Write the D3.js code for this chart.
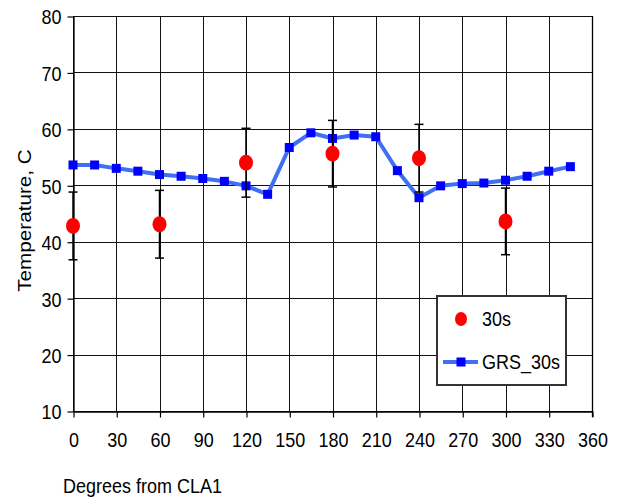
<!DOCTYPE html>
<html>
<head>
<meta charset="utf-8">
<script src="https://cdn.jsdelivr.net/npm/d3@7"></script>
<style>
  html, body { margin: 0; padding: 0; background: #fff; }
  svg { display: block; font-family: "Liberation Sans", Arial, sans-serif; }
</style>
</head>
<body>
<svg id="chart" width="632" height="501"></svg>
<script>
// ---- data ----
const grsAngles = [0,15,30,45,60,75,90,105,120,135,150,165,180,195,210,225,240,255,270,285,300,315,330,345];
const grs30s    = [53.6,53.6,53.0,52.5,51.9,51.6,51.2,50.7,49.9,48.4,56.7,59.3,58.3,58.9,58.6,52.6,47.8,49.9,50.3,50.4,50.9,51.6,52.5,53.3];
const measAngles = [0,60,120,180,240,300];
const meas30s    = [42.8,43.1,54.0,55.6,54.8,43.6];
const measErr    = [6.0,6.0,6.1,5.9,6.0,5.9];
const xTicks = [0,30,60,90,120,150,180,210,240,270,300,330,360];
const yTicks = [10,20,30,40,50,60,70,80];
const seriesNames = ["30s", "GRS_30s"];
const xTitle = "Degrees from CLA1";
const yTitle = "Temperature, C";

// ---- layout ----
const svg = d3.select("#chart");
const pL = 73, pR = 592, pT = 16, pB = 411;
const sy = 1.15; // vertical stretch of text as in reference
const x = d3.scaleLinear().domain([0, 360]).range([pL, pR]);
const y = d3.scaleLinear().domain([10, 80]).range([pB, pT]);

// grid
const grid = svg.append("g");
grid.selectAll(".vg").data(xTicks).join("line")
  .attr("x1", d => Math.round(x(d)) + 0.5).attr("x2", d => Math.round(x(d)) + 0.5)
  .attr("y1", pT).attr("y2", pB)
  .attr("stroke", "#111").attr("stroke-width", 1);
grid.selectAll(".hg").data(yTicks).join("line")
  .attr("x1", pL).attr("x2", pR)
  .attr("y1", d => Math.round(y(d)) + 0.5).attr("y2", d => Math.round(y(d)) + 0.5)
  .attr("stroke", "#111").attr("stroke-width", 1);

// axes
const yAxis = svg.append("g").attr("transform", `translate(${pL + 0.5},0.5)`)
  .call(d3.axisLeft(y).tickValues(yTicks).tickSize(6).tickSizeOuter(0).tickPadding(8));
const xAxis = svg.append("g").attr("transform", `translate(0.5,${pB + 0.5})`)
  .call(d3.axisBottom(x).tickValues(xTicks).tickSize(6).tickSizeOuter(0));
[yAxis, xAxis].forEach(a => {
  a.select(".domain").attr("stroke", "#000").attr("stroke-width", 1.3);
  a.selectAll(".tick line").attr("stroke", "#000").attr("stroke-width", 1.2);
  a.selectAll(".tick text").attr("font-size", 18).attr("fill", "#000")
    .attr("font-family", "Liberation Sans, Arial, sans-serif");
});
yAxis.selectAll(".tick text").attr("x", -12).attr("dy", "0.36em").attr("transform", `scale(1,${sy})`);
xAxis.selectAll(".tick text").attr("y", 36 / sy).attr("dy", 0).attr("transform", `scale(1,${sy})`);

// right border
svg.append("line").attr("x1", pR + 0.5).attr("x2", pR + 0.5).attr("y1", pT).attr("y2", pB + 6)
  .attr("stroke", "#000").attr("stroke-width", 1.3);

// titles
svg.append("g").attr("transform", `translate(63,493)`)
  .append("text").attr("transform", `scale(1,${sy})`)
  .attr("font-size", 18).attr("fill", "#000").text(xTitle);
svg.append("g").attr("transform", `translate(31,${(pT + pB) / 2 + 7}) rotate(-90)`)
  .append("text").attr("transform", `scale(${sy},1)`)
  .attr("text-anchor", "middle").attr("font-size", 18).attr("fill", "#000").text(yTitle);

// GRS line
const line = d3.line().x((d, i) => x(grsAngles[i])).y(d => y(d));
svg.append("path").datum(grs30s).attr("d", line)
  .attr("fill", "none").attr("stroke", "#3f6ff5").attr("stroke-width", 4).attr("stroke-linejoin", "round");
svg.append("g").selectAll("rect").data(grs30s).join("rect")
  .attr("x", (d, i) => x(grsAngles[i]) - 4.5).attr("y", d => y(d) - 4.5)
  .attr("width", 9).attr("height", 9).attr("fill", "#0000ff");

// error bars
const eb = svg.append("g").attr("stroke", "#000").attr("stroke-width", 1.5);
measAngles.forEach((a, i) => {
  const cx = x(a), hi = y(meas30s[i] + measErr[i]), lo = y(meas30s[i] - measErr[i]);
  eb.append("line").attr("x1", cx).attr("x2", cx).attr("y1", hi).attr("y2", lo);
  eb.append("line").attr("x1", cx - 4.5).attr("x2", cx + 4.5).attr("y1", hi).attr("y2", hi);
  eb.append("line").attr("x1", cx - 4.5).attr("x2", cx + 4.5).attr("y1", lo).attr("y2", lo);
});

// measured points
svg.append("g").selectAll("ellipse").data(meas30s).join("ellipse")
  .attr("cx", (d, i) => x(measAngles[i])).attr("cy", d => y(d))
  .attr("rx", 7).attr("ry", 8).attr("fill", "#ff0000");

// legend
const lg = svg.append("g");
lg.append("rect").attr("x", 437).attr("y", 296).attr("width", 129).attr("height", 89)
  .attr("fill", "#fff").attr("stroke", "#333").attr("stroke-width", 2);
lg.append("ellipse").attr("cx", 461).attr("cy", 319).attr("rx", 6).attr("ry", 7).attr("fill", "#ff0000");
lg.append("line").attr("x1", 443).attr("x2", 478).attr("y1", 362).attr("y2", 362)
  .attr("stroke", "#3f6ff5").attr("stroke-width", 4);
lg.append("rect").attr("x", 456.5).attr("y", 357.5).attr("width", 9).attr("height", 9).attr("fill", "#0000ff");
lg.append("g").attr("transform", "translate(482,326)").append("text")
  .attr("transform", `scale(1,${sy})`).attr("font-size", 18).attr("fill", "#000").text(seriesNames[0]);
lg.append("g").attr("transform", "translate(482,369)").append("text")
  .attr("transform", `scale(1,${sy})`).attr("font-size", 18).attr("fill", "#000").text(seriesNames[1]);
</script>
</body>
</html>
